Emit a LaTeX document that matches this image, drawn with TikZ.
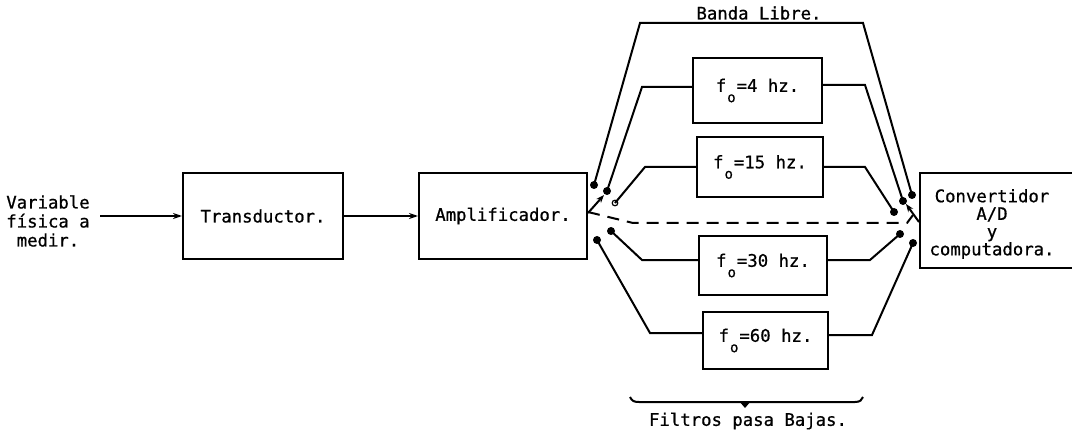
\documentclass[tikz,border=0pt]{standalone}
\usepackage{fontspec}
\setmainfont[FakeBold=0.8,AutoFakeBold=0.8]{DejaVu Sans Mono}
\usetikzlibrary{arrows.meta}
% lowered "o" of the cut-off frequency f_o
\newcommand\lowo{\makebox[0.6em]{\raisebox{-0.6em}{\fontsize{14}{14}\selectfont o}}}

\begin{document}
\begin{tikzpicture}[x=1pt,y=-1pt,line width=2pt,
  lbl/.style={font=\fontsize{17.3}{20}\selectfont},
  blk/.style={draw,rectangle,inner sep=0pt,lbl},
  txt/.style={inner sep=0pt,align=center},
  flow/.style={-{Stealth[length=9pt,width=6pt]}},
  arm/.style={-{Stealth[length=8pt,width=6pt]}},
  dashline/.style={dash pattern=on 12pt off 8pt},
  contact/.style={fill},
  opencontact/.style={draw,line width=1.2pt}]
\useasboundingbox (0,0) rectangle (1072,433);
\clip (0,0) rectangle (1072,433);

% input chain
\node[txt,font=\fontsize{17.3}{19}\selectfont] (var) at (48,221) {Variable\\física a\\medir.};
\node[blk,minimum width=160pt,minimum height=86pt] (trans) at (263,216) {Transductor.};
\node[blk,minimum width=168pt,minimum height=86pt] (amp) at (503,216) {Amplificador.};
\coordinate (in) at (100,216);
\draw[flow] (in) -- (trans.west);
\draw[flow] (trans.east) -- (amp.west);

% converter (runs off the right edge)
\node[blk,minimum width=170pt,minimum height=95pt] (conv) at (1005,220.5) {};
\node[txt,font=\fontsize{17.3}{17.7}\selectfont] (convlbl) at (992,224) {Convertidor\\A/D\\y\\computadora.};

% low-pass filters
\node[blk,minimum width=129pt,minimum height=65pt] (f4)  at (757.5,90.5) {f\lowo=4 hz.};
\node[blk,minimum width=126pt,minimum height=60pt] (f15) at (760,167)    {f\lowo=15 hz.};
\node[blk,minimum width=128pt,minimum height=59pt] (f30) at (763,265.5)  {f\lowo=30 hz.};
\node[blk,minimum width=125pt,minimum height=57pt] (f60) at (765.5,340.5) {f\lowo=60 hz.};

% switch contacts, input side
\coordinate (dBL)  at (594,185);
\coordinate (d4L)  at (607,191);
\coordinate (d15L) at (615,203);
\coordinate (d30L) at (611,231);
\coordinate (d60L) at (597,240);
% switch contacts, output side
\coordinate (dBR)  at (912,195);
\coordinate (d4R)  at (903,201);
\coordinate (d15R) at (894,212);
\coordinate (d30R) at (900,234);
\coordinate (d60R) at (913,243);

% unfiltered band
\node[txt,lbl] (banda) at (759,13) {Banda Libre.};
\draw (dBL) -- (640,23) -- (863,23) -- (dBR);

% filter branches
\draw (d4L) -- (642,87) -- ([yshift=3.5pt]f4.west);
\draw ([yshift=5.5pt]f4.east) -- (865,85) -- (d4R);
\draw (d15L) -- (645,167) -- (f15.west);
\draw (f15.east) -- (865,167) -- (d15R);
\draw (d30L) -- (642,260) -- ([yshift=5.5pt]f30.west);
\draw ([yshift=5.5pt]f30.east) -- (870,260) -- (d30R);
\draw (d60L) -- (650,333) -- ([yshift=7.5pt]f60.west);
\draw ([yshift=5.5pt]f60.east) -- (872,335) -- (d60R);

% contact points
\foreach \p in {dBL,d4L,d30L,d60L,dBR,d4R,d15R,d30R,d60R}
  \fill[contact] (\p) circle (4pt);
\draw[opencontact] (d15L) circle (2.8pt);

% selector arms
\coordinate (swL) at (604,195);
\coordinate (swR) at (906,204);
\draw[arm] ([yshift=3pt]amp.east) -- (swL);
\draw[arm] ([yshift=-1.5pt]conv.west) -- (swR);

% dashed path through the switches
\coordinate (dsh) at (913,215);
\draw[dashline] ([yshift=4pt]amp.east) -- (633,223) -- (907,223) -- (dsh);

% brace grouping the filters
\draw (630,397) .. controls (632,401) and (634,402) .. (639,402) -- (855,402)
      .. controls (860,402) and (862,400) .. (863,397);
\fill (739,401) -- (751,401) -- (745,408) -- cycle;
\node[txt,lbl] (filtros) at (748,421) {Filtros pasa Bajas.};
\end{tikzpicture}
\end{document}
